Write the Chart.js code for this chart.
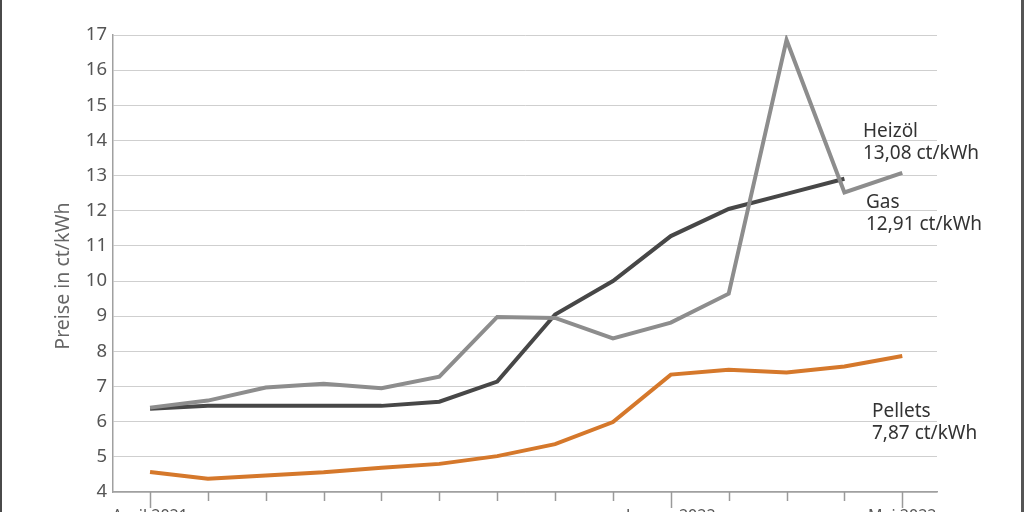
<!DOCTYPE html>
<html>
<head>
<meta charset="utf-8">
<script src="https://cdn.jsdelivr.net/npm/chart.js@4/dist/chart.umd.min.js"></script>
<style>
html,body{margin:0;padding:0;background:#fff;overflow:hidden;width:1024px;height:512px;}
#wrap{position:relative;width:1024px;height:540px;}
.bl{position:absolute;top:0;left:0;width:2px;height:512px;background:#4a4a4a;}
.br{position:absolute;top:0;right:0;width:3px;height:512px;background:#555;}
</style>
</head>
<body>
<div id="wrap">
<canvas id="c" width="1024" height="540"></canvas>
<div class="bl"></div><div class="br"></div>
</div>
<script>
const categories = ['April 2021','','','','','','','','','Januar 2022','','','','Mai 2022'];
const majorTicks = [0, 9, 13];
const gas     = [6.37, 6.45, 6.45, 6.45, 6.45, 6.57, 7.14, 9.05, 10.0, 11.28, 12.05, 12.48, 12.91, null];
const heizoel = [6.40, 6.60, 6.97, 7.08, 6.95, 7.28, 8.98, 8.95, 8.37, 8.82, 9.64, 16.86, 12.52, 13.08];
const pellets = [4.57, 4.38, 4.47, 4.56, 4.69, 4.80, 5.02, 5.36, 5.99, 7.34, 7.48, 7.40, 7.57, 7.87];
const yTicks  = [4,5,6,7,8,9,10,11,12,13,14,15,16,17];
const endLabels = [
  {lines:['Heizöl','13,08 ct/kWh'], x:863, y:137},
  {lines:['Gas','12,91 ct/kWh'], x:866, y:208},
  {lines:['Pellets','7,87 ct/kWh'], x:872, y:417}
];
const yTitle = 'Preise in ct/kWh';

const FONT = "'Noto Sans', 'Open Sans', sans-serif";

function pts(arr){ return arr.map((v,i)=>({x:i,y:v})); }

const decor = {
  id:'decor',
  afterDraw(chart){
    const ctx = chart.ctx, xs = chart.scales.x, a = chart.chartArea;
    ctx.save();
    ctx.strokeStyle = '#9a9a9a';
    ctx.lineWidth = 1.5;
    for (let i=0;i<categories.length;i++){
      const px = Math.round(xs.getPixelForValue(i))+0.5;
      const len = majorTicks.includes(i) ? 16 : 9;
      ctx.beginPath(); ctx.moveTo(px, a.bottom); ctx.lineTo(px, a.bottom+len); ctx.stroke();
    }
    ctx.fillStyle = '#333';
    ctx.font = "19px " + FONT;
    ctx.textAlign = 'left';
    ctx.textBaseline = 'alphabetic';
    endLabels.forEach(l=>{
      l.lines.forEach((t,k)=>ctx.fillText(t, l.x, l.y + k*21.5));
    });
    ctx.translate(63, 276);
    ctx.rotate(-Math.PI/2);
    ctx.textAlign = 'center';
    ctx.textBaseline = 'middle';
    ctx.fillStyle = '#666';
    ctx.font = "19.5px " + FONT;
    ctx.fillText(yTitle, 0, 0);
    ctx.restore();
  }
};

new Chart(document.getElementById('c'), {
  type:'line',
  data:{
    datasets:[
      {label:'Pellets', data:pts(pellets), borderColor:'#d5782b', borderWidth:4},
      {label:'Heizöl', data:pts(heizoel), borderColor:'#8d8d8d', borderWidth:4},
      {label:'Gas', data:pts(gas), borderColor:'#474747', borderWidth:4}
    ]
  },
  options:{
    responsive:false,
    animation:false,
    events:[],
    layout:{padding:{left:0,right:87,top:35,bottom:0}},
    elements:{line:{tension:0,borderJoinStyle:'miter',borderCapStyle:'butt',fill:false},point:{radius:0}},
    plugins:{legend:{display:false},tooltip:{enabled:false}},
    scales:{
      x:{
        type:'linear', min:-0.64, max:13.6,
        afterFit(s){ s.height = 48; },
        afterBuildTicks(s){ s.ticks = categories.map((c,i)=>({value:i})); },
        grid:{display:false, drawTicks:false},
        border:{display:true, color:'#a0a0a0', width:1.5},
        ticks:{autoSkip:false, maxRotation:0, padding:15, color:'#555',
          font:{family:FONT,size:16},
          callback:(v)=>categories[v] || ''}
      },
      y:{
        min:4, max:17,
        afterFit(s){ s.width = 113; },
        afterBuildTicks(s){ s.ticks = yTicks.map(v=>({value:v})); },
        grid:{color:'#cfcfcf', lineWidth:1, drawTicks:false},
        border:{display:true, color:'#a0a0a0', width:1.5},
        ticks:{padding:6, color:'#555', font:{family:FONT,size:18.5}}
      }
    }
  },
  plugins:[decor]
});
</script>
</body>
</html>
